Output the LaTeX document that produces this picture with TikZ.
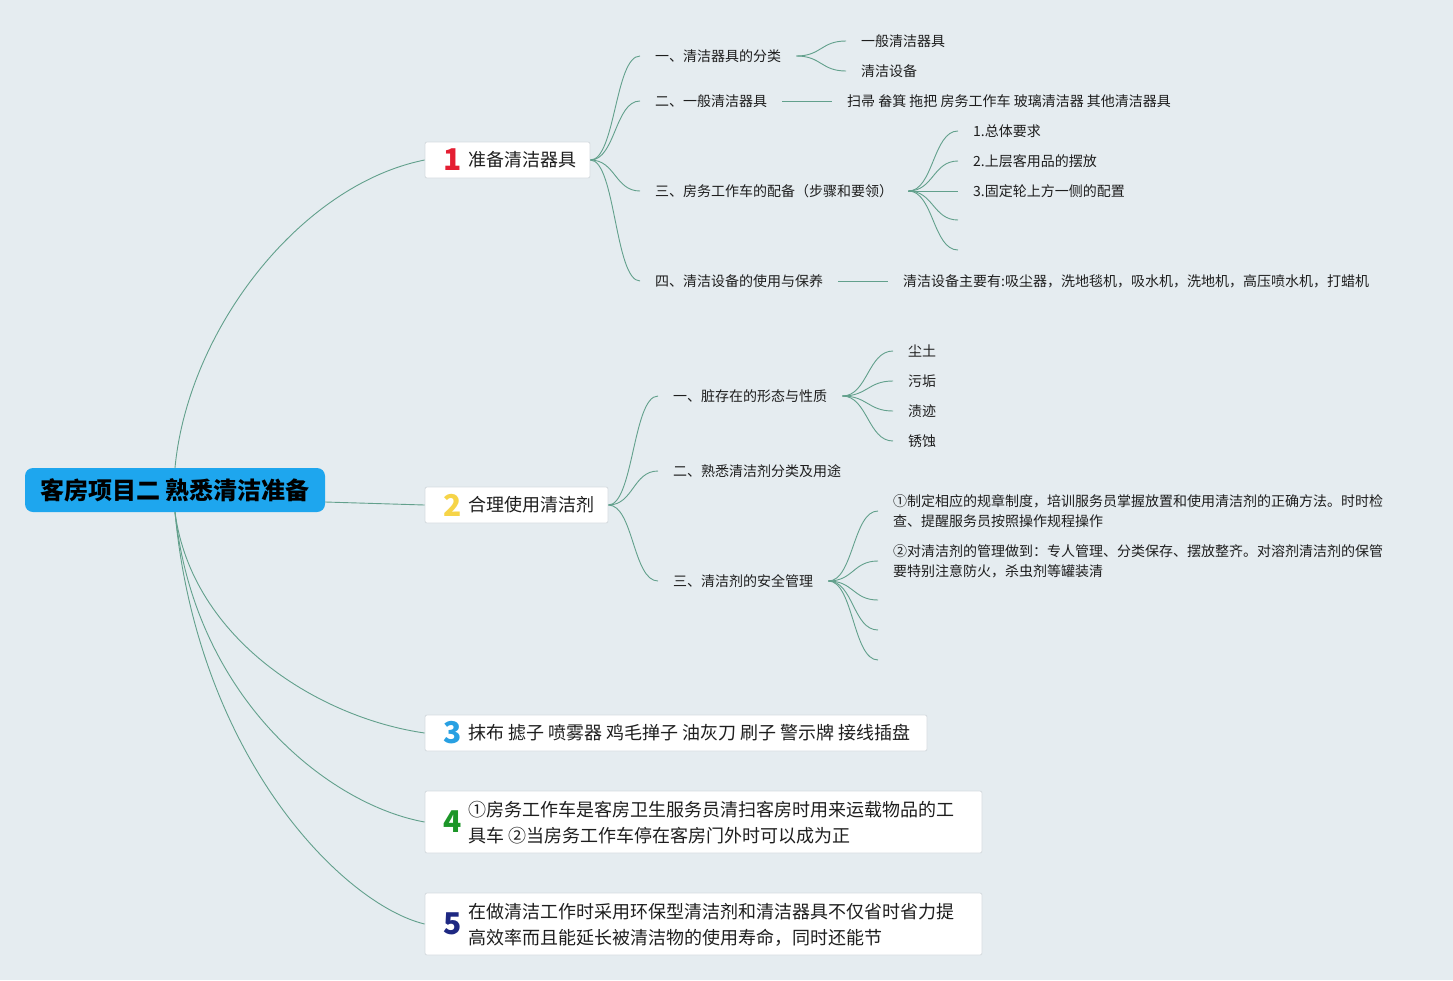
\documentclass[tikz,border=0pt]{standalone}
\usepackage{fontspec}
\setmainfont{Noto Sans CJK SC}
\definecolor{bgc}{RGB}{229,236,240}
\definecolor{linkc}{RGB}{98,160,140}
\definecolor{rootc}{RGB}{30,166,238}
\definecolor{boxb}{RGB}{214,220,224}
\definecolor{txt}{RGB}{30,30,30}
\definecolor{cone}{RGB}{228,30,50}
\definecolor{ctwo}{RGB}{246,212,72}
\definecolor{cthree}{RGB}{40,160,226}
\definecolor{cfour}{RGB}{28,150,40}
\definecolor{cfive}{RGB}{30,40,130}
\begin{document}
\begin{tikzpicture}[x=1pt,y=-1pt,
  conn/.style={draw=linkc,line width=0.9pt},
  lab/.style={anchor=west,inner xsep=15pt,inner ysep=3pt,font=\fontsize{14}{20}\selectfont,text=txt,align=left},
  box/.style={draw=boxb,fill=white,rounded corners=2pt,line width=0.8pt},
  num/.style={anchor=east,inner sep=0pt,font=\fontsize{30}{30}\selectfont\bfseries},
  big/.style={anchor=west,inner sep=0pt,font=\fontsize{18}{26}\selectfont,text=txt,align=left},
  scurve/.style={conn,to path={.. controls +(25,0) and +(-25,0) .. (\tikztotarget)}}]
\fill[bgc] (0,0) rectangle (1453,980);
\useasboundingbox (0,0) rectangle (1453,980);

% root
\node[fill=rootc,rounded corners=8pt,minimum width=300pt,minimum height=44pt,inner sep=0pt,
      font=\fontsize{24}{28}\selectfont\bfseries,text=black] (root) at (175,490) {客房项目二 熟悉清洁准备};

% main boxes
\node[box,minimum width=165pt,minimum height=36pt] (n1) at (507.5,160) {};
\node[box,minimum width=183pt,minimum height=36pt] (n2) at (516.5,505) {};
\node[box,minimum width=502pt,minimum height=36pt] (n3) at (676,733) {};
\node[box,minimum width=557pt,minimum height=62pt] (n4) at (703.5,822) {};
\node[box,minimum width=557pt,minimum height=62pt] (n5) at (703.5,924) {};

\node[num,text=cone] (d1) at (462,160) {1};
\node[num,text=ctwo] (d2) at (462,505) {2};
\node[num,text=cthree] (d3) at (462,733) {3};
\node[num,text=cfour] (d4) at (462,822) {4};
\node[num,text=cfive] (d5) at (462,924) {5};

\node[big] (t1) at (468,160) {准备清洁器具};
\node[big] (t2) at (468,505) {合理使用清洁剂};
\node[big] (t3) at (468,733) {抹布 摅子 喷雾器 鸡毛掸子 油灰刀 刷子 警示牌 接线插盘};
\node[big] (t4) at (468,823) {①房务工作车是客房卫生服务员清扫客房时用来运载物品的工\\具车 ②当房务工作车停在客房门外时可以成为正};
\node[big] (t5) at (468,925) {在做清洁工作时采用环保型清洁剂和清洁器具不仅省时省力提\\高效率而且能延长被清洁物的使用寿命，同时还能节};

% root connectors
\draw[conn] (root.north) .. controls (188,330) and (300,185) .. (n1.west);
\draw[conn] ([yshift=-12pt]root.east) -- (n2.west);
\draw[conn] (root.south) .. controls (192,640) and (320,718) .. (n3.west);
\draw[conn] (root.south) .. controls (195,700) and (330,805) .. (n4.west);
\draw[conn] (root.south) .. controls (198,760) and (345,905) .. (n5.west);

% branch 1
\node[lab] (a1) at (640,56) {一、清洁器具的分类};
\node[lab] (a2) at (640,101) {二、一般清洁器具};
\node[lab] (a3) at (640,191) {三、房务工作车的配备（步骤和要领）};
\node[lab] (a4) at (640,281) {四、清洁设备的使用与保养};
\foreach \k in {a1,a2,a3,a4} \draw[scurve] (n1.east) to (\k.west);

\node[lab] (b11) at (846,41) {一般清洁器具};
\node[lab] (b12) at (846,71) {清洁设备};
\draw[scurve] (a1.east) to (b11.west);
\draw[scurve] (a1.east) to (b12.west);

\node[lab] (b2) at (832,101) {扫帚 畚箕 拖把 房务工作车 玻璃清洁器 其他清洁器具};
\draw[conn] (a2.east) -- (b2.west);

\node[lab] (b31) at (958,131) {1.总体要求};
\node[lab] (b32) at (958,161) {2.上层客用品的摆放};
\node[lab] (b33) at (958,191) {3.固定轮上方一侧的配置};
\coordinate (b34) at (958,220);
\coordinate (b35) at (958,250);
\foreach \k in {b31,b32,b33} \draw[scurve] (a3.east) to (\k.west);
\foreach \k in {b34,b35} \draw[scurve] (a3.east) to (\k);

\node[lab] (b4) at (888,281) {清洁设备主要有:吸尘器，洗地毯机，吸水机，洗地机，高压喷水机，打蜡机};
\draw[conn] (a4.east) -- (b4.west);

% branch 2
\node[lab] (c1) at (658,396) {一、脏存在的形态与性质};
\node[lab] (c2) at (658,471) {二、熟悉清洁剂分类及用途};
\node[lab] (c3) at (658,581) {三、清洁剂的安全管理};
\foreach \k in {c1,c2,c3} \draw[scurve] (n2.east) to (\k.west);

\node[lab] (e11) at (893,351) {尘土};
\node[lab] (e12) at (893,381) {污垢};
\node[lab] (e13) at (893,411) {渍迹};
\node[lab] (e14) at (893,441) {锈蚀};
\foreach \k in {e11,e12,e13,e14} \draw[scurve] (c1.east) to (\k.west);

\node[lab] (e31) at (878,511) {①制定相应的规章制度，培训服务员掌握放置和使用清洁剂的正确方法。时时检\\查、提醒服务员按照操作规程操作};
\node[lab] (e32) at (878,561) {②对清洁剂的管理做到：专人管理、分类保存、摆放整齐。对溶剂清洁剂的保管\\要特别注意防火，杀虫剂等罐装清};
\coordinate (e33) at (878,600);
\coordinate (e34) at (878,630);
\coordinate (e35) at (878,660);
\foreach \k in {e31,e32} \draw[scurve] (c3.east) to (\k.west);
\foreach \k in {e33,e34,e35} \draw[scurve] (c3.east) to (\k);
\end{tikzpicture}
\end{document}
